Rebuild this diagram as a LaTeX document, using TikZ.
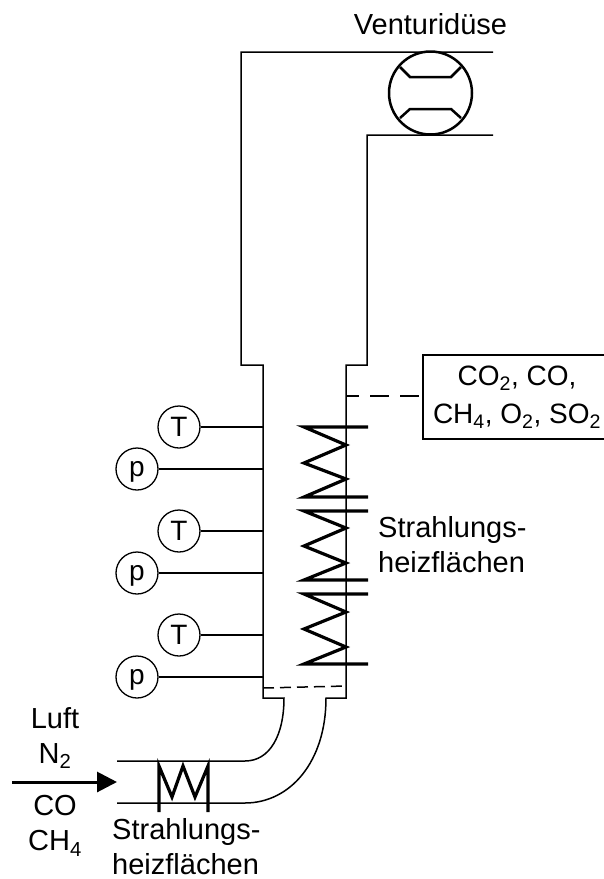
\documentclass[tikz,border=0pt]{standalone}
\usepackage{fontspec}
\setmainfont{Liberation Sans}
\usetikzlibrary{positioning,arrows.meta}

\tikzset{
	wall/.style={line width=1.5pt},
	coil/.style={line width=3.2pt},
	sensor/.style={draw, circle, line width=1.3pt, minimum size=42pt, inner sep=0pt, font=\fontsize{28}{34}\selectfont},
	sensorp/.style={sensor, text depth=0pt},
	lbl/.style={inner sep=0pt, align=center, font=\fontsize{29}{35}\selectfont},
	lblleft/.style={lbl, align=left, anchor=north west},
}

\begin{document}
\begin{tikzpicture}[x=1pt, y=-1pt, on grid]
	\useasboundingbox (0,0) rectangle (604,879);

	\coordinate (a1) at (493,52);
	\coordinate (a2) at (241,52);
	\coordinate (a3) at (241,365);
	\coordinate (a4) at (263,365);
	\coordinate (a5) at (263,698);
	\coordinate (a6) at (284,698);
	\coordinate (a7) at (245,761);
	\coordinate (a8) at (117,761);
	\coordinate (b1) at (493,135);
	\coordinate (b2) at (367,135);
	\coordinate (b3) at (367,365);
	\coordinate (b4) at (346,365);
	\coordinate (b5) at (346,698);
	\coordinate (b6) at (326,698);
	\coordinate (b7) at (245,803);
	\coordinate (b8) at (117,803);

	\draw[wall] (a1) -- (a2) -- (a3) -- (a4) -- (a5) -- (a6) .. controls (284,735) and (270,761) .. (a7) -- (a8);
	\draw[wall] (b1) -- (b2) -- (b3) -- (b4) -- (b5) -- (b6) .. controls (326,762) and (290,803) .. (b7) -- (b8);

	\node[draw, circle, line width=2.5pt, minimum size=83pt, inner sep=0pt] (venturi) at (430.5,93) {};
	\draw[line width=2.5pt] (400,67) -- (410,77) -- (451,77) -- (461,67);
	\draw[line width=2.5pt] (400,118) -- (410,109) -- (451,109) -- (461,118);
	\node[lbl, above=58pt of venturi.center] (venturilabel) {Venturidüse};

	\node[sensor] (t1) at (179,427) {T};
	\node[sensorp, below left=42pt and 42pt of t1] (p1) {p};
	\node[sensor, below=104pt of t1] (t2) {T};
	\node[sensorp, below left=42pt and 42pt of t2] (p2) {p};
	\node[sensor, below=104pt of t2] (t3) {T};
	\node[sensorp, below left=42pt and 42pt of t3] (p3) {p};

	\coordinate[right=84pt of t1] (w1);
	\coordinate[right=126pt of p1] (w2);
	\coordinate[right=84pt of t2] (w3);
	\coordinate[right=126pt of p2] (w4);
	\coordinate[right=84pt of t3] (w5);
	\coordinate[right=126pt of p3] (w6);

	\draw[wall] (t1) -- (w1);
	\draw[wall] (p1) -- (w2);
	\draw[wall] (t2) -- (w3);
	\draw[wall] (p2) -- (w4);
	\draw[wall] (t3) -- (w5);
	\draw[wall] (p3) -- (w6);

	\node[draw, line width=1.5pt, minimum width=188pt, minimum height=84pt, inner sep=0pt, align=center, font=\fontsize{28}{38}\selectfont] (gas) at (517,397) {CO\textsubscript{2}, CO,\\CH\textsubscript{4}, O\textsubscript{2}, SO\textsubscript{2}};
	\coordinate (probe) at (346,396);
	\draw[wall, dash pattern=on 19pt off 11pt, dash phase=6pt] (probe) -- (gas.west |- probe);

	\coordinate (d1) at (263,688);
	\coordinate (d2) at (346,686);
	\draw[wall, dash pattern=on 11pt off 6pt] (d1) -- (d2);

	\draw[coil] (368,427) -- (304,427) -- (346,445) -- (304,463) -- (346,479) -- (304,497) -- (368,497);
	\draw[coil] (368,511) -- (304,511) -- (346,528) -- (304,546) -- (346,563) -- (304,580) -- (368,580);
	\draw[coil] (368,594) -- (304,594) -- (346,612) -- (304,629) -- (346,647) -- (304,664) -- (368,664);
	\node[lblleft] (heatupper) at (378,516.5) {Strahlungs-\\heizflächen};

	\draw[coil] (159,812) -- (159,766) -- (172,797) -- (183,766) -- (195,797) -- (208,766) -- (208,812);
	\node[lblleft] (heatlower) at (112,818) {Strahlungs-\\heizflächen};

	\coordinate (inlet) at (12,782);
	\coordinate (inletend) at (117,782);
	\draw[line width=3pt, -{Triangle[length=20pt, width=20pt]}] (inlet) -- (inletend);
	\node[lbl] (luft) at (55,738) {Luft\\N\textsubscript{2}};
	\node[lbl] (co) at (55,826) {CO\\CH\textsubscript{4}};
\end{tikzpicture}
\end{document}
